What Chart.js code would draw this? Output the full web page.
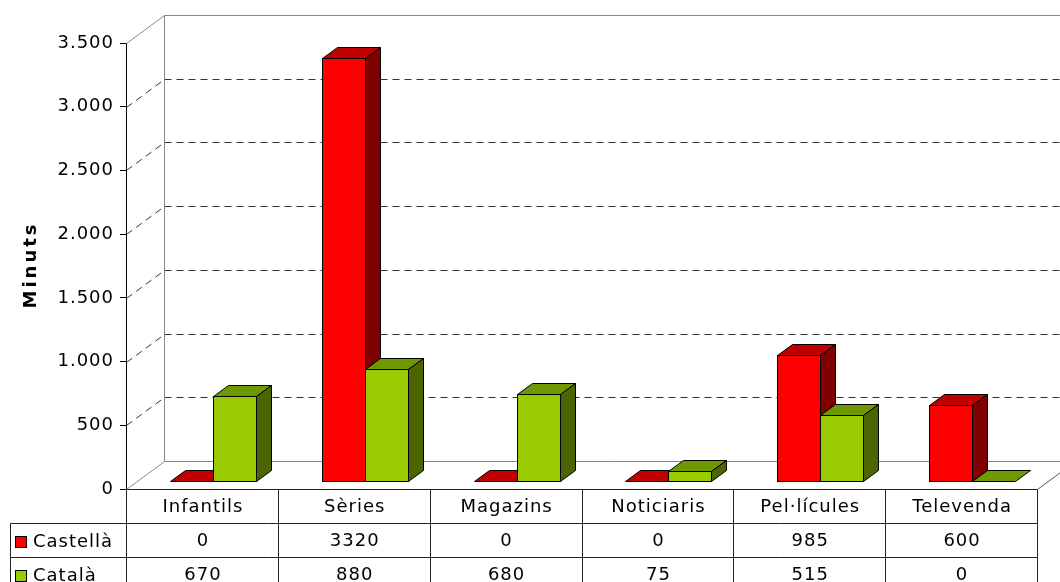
<!DOCTYPE html>
<html>
<head>
<meta charset="utf-8">
<script src="https://cdn.jsdelivr.net/npm/chart.js@4/dist/chart.umd.min.js"></script>
<style>
  body { margin: 0; background: #fff; }
  #wrap { width: 1060px; height: 582px; }
</style>
</head>
<body>
<div id="wrap"><canvas id="grafic" width="1060" height="582"></canvas></div>
<script>
// dades
const categories = ["Infantils", "Sèries", "Magazins", "Noticiaris", "Pel·lícules", "Televenda"];
const seriesNames = ["Castellà", "Català"];
const castella = [0, 3320, 0, 0, 985, 600];
const catala = [670, 880, 680, 75, 515, 0];
const yTitle = "Minuts";
const yMax = 3500;
const yStep = 500;

// colors: cara, sostre, lateral
const colors = [
  { face: "#ff0000", top: "#c00000", side: "#800000" },
  { face: "#99cc00", top: "#6f9900", side: "#4b6600" }
];

// perspectiva
const DEPTH_X = 38, DEPTH_Y = -28;     // fons de la paret
const BAR_OFF_X = 11, BAR_OFF_Y = -8;  // on comença la barra
const BAR_DX = 15, BAR_DY = -11;       // gruix de la barra

function fmt(v) {
  return String(v).replace(/\B(?=(\d{3})+(?!\d))/g, ".");
}

function line(ctx, x0, y0, x1, y1) {
  ctx.beginPath();
  ctx.moveTo(x0, y0);
  ctx.lineTo(x1, y1);
  ctx.stroke();
}

// -------------------------------
// PARETS I LINIES DE GRAELLA
// -------------------------------
const walls = {
  id: "walls",
  beforeDraw(chart) {
    const ctx = chart.ctx;
    ctx.fillStyle = "#fff";
    ctx.fillRect(0, 0, chart.width, chart.height);
    ctx.letterSpacing = "1px";
  },
  beforeDatasetsDraw(chart) {
    const ctx = chart.ctx;
    const a = chart.chartArea;
    const y = chart.scales.y;
    const L = a.left + 0.5, R = a.right + 0.5;
    const top = Math.round(a.top) + 0.5, bot = Math.round(a.bottom) + 0.5;
    ctx.save();
    ctx.lineWidth = 1;

    // graella discontinua
    ctx.strokeStyle = "#333";
    ctx.setLineDash([7, 5]);
    for (let v = yStep; v < yMax; v += yStep) {
      const py = Math.round(y.getPixelForValue(v)) + 0.5;
      line(ctx, L + DEPTH_X, py + DEPTH_Y, R + DEPTH_X + 40, py + DEPTH_Y);
      line(ctx, L, py, L + DEPTH_X, py + DEPTH_Y);
    }
    ctx.setLineDash([]);

    // vores de les parets
    ctx.strokeStyle = "#888";
    line(ctx, L, top, L + DEPTH_X, top + DEPTH_Y);
    line(ctx, L + DEPTH_X, top + DEPTH_Y, R + DEPTH_X + 40, top + DEPTH_Y);
    line(ctx, L + DEPTH_X, top + DEPTH_Y, L + DEPTH_X, bot + DEPTH_Y);
    line(ctx, L + DEPTH_X, bot + DEPTH_Y, R + DEPTH_X + 40, bot + DEPTH_Y);
    line(ctx, L, bot, L + DEPTH_X, bot + DEPTH_Y);
    ctx.strokeStyle = "#555";
    line(ctx, R, bot, R + DEPTH_X, bot + DEPTH_Y);
    ctx.restore();
  },

  // -------------------------------
  // BARRES 3D
  // -------------------------------
  afterDatasetsDraw(chart) {
    const ctx = chart.ctx;
    ctx.save();
    ctx.lineWidth = 1;
    ctx.strokeStyle = "#000";
    ctx.lineJoin = "miter";
    const metas = chart.data.datasets.map((d, i) => chart.getDatasetMeta(i));
    for (let c = 0; c < categories.length; c++) {
      metas.forEach((meta, s) => {
        const el = meta.data[c];
        const col = colors[s];
        const x0 = Math.round(el.x - el.width / 2) + BAR_OFF_X + 0.5;
        const x1 = Math.round(el.x + el.width / 2) + BAR_OFF_X + 0.5;
        const yt = Math.round(el.y) + BAR_OFF_Y + 0.5;
        const yb = Math.round(el.base) + BAR_OFF_Y + 0.5;

        // sostre
        ctx.beginPath();
        ctx.moveTo(x0, yt);
        ctx.lineTo(x0 + BAR_DX, yt + BAR_DY);
        ctx.lineTo(x1 + BAR_DX, yt + BAR_DY);
        ctx.lineTo(x1, yt);
        ctx.closePath();
        ctx.fillStyle = col.top;
        ctx.fill();
        ctx.stroke();

        if (yb - yt > 0.5) {
          // lateral
          ctx.beginPath();
          ctx.moveTo(x1, yt);
          ctx.lineTo(x1 + BAR_DX, yt + BAR_DY);
          ctx.lineTo(x1 + BAR_DX, yb + BAR_DY);
          ctx.lineTo(x1, yb);
          ctx.closePath();
          ctx.fillStyle = col.side;
          ctx.fill();
          ctx.stroke();
          // cara
          ctx.fillStyle = col.face;
          ctx.fillRect(x0, yt, x1 - x0, yb - yt);
          ctx.strokeRect(x0, yt, x1 - x0, yb - yt);
        }
      });
    }
    ctx.restore();
  },

  // -------------------------------
  // TAULA DE DADES + TITOL EIX
  // -------------------------------
  afterDraw(chart) {
    const ctx = chart.ctx;
    const a = chart.chartArea;
    const L = Math.round(a.left) + 0.5, R = Math.round(a.right) + 0.5;
    const top = Math.round(a.bottom) + 0.5;
    const rowH = 34;
    const colW = (a.right - a.left) / categories.length;
    const legL = 10.5;
    const rows = [castella, catala];

    ctx.save();
    ctx.lineWidth = 1;
    ctx.strokeStyle = "#222";
    line(ctx, L, top, R, top);
    for (let r = 1; r <= rows.length + 1; r++) {
      line(ctx, legL, top + r * rowH, R, top + r * rowH);
    }
    for (let c = 0; c <= categories.length; c++) {
      const x = Math.round(a.left + c * colW) + 0.5;
      line(ctx, x, top, x, chart.height);
    }
    line(ctx, legL, top + rowH, legL, chart.height);

    ctx.font = "18px 'DejaVu Sans'";
    ctx.letterSpacing = "1px";
    ctx.fillStyle = "#000";
    ctx.textBaseline = "middle";
    ctx.textAlign = "center";
    categories.forEach((cat, c) => {
      const cx = a.left + (c + 0.5) * colW + 1;
      ctx.fillText(cat, cx, top + rowH / 2 + 1);
      rows.forEach((vals, r) => {
        ctx.fillText(String(vals[c]), cx, top + (r + 1.5) * rowH + 1);
      });
    });

    ctx.textAlign = "left";
    seriesNames.forEach((name, r) => {
      const cy = top + (r + 1.5) * rowH + 1;
      ctx.fillStyle = colors[r].face;
      ctx.fillRect(15.5, Math.round(cy) - 5.5, 11, 11);
      ctx.strokeStyle = "#000";
      ctx.strokeRect(15.5, Math.round(cy) - 5.5, 11, 11);
      ctx.fillStyle = "#000";
      ctx.fillText(name, 33, cy + 1);
    });

    // titol de l'eix Y
    ctx.translate(31, (a.top + a.bottom) / 2);
    ctx.rotate(-Math.PI / 2);
    ctx.textAlign = "center";
    ctx.font = "bold 18px 'DejaVu Sans'";
    ctx.letterSpacing = "3px";
    ctx.fillText(yTitle, 1, 0);
    ctx.restore();
  }
};

new Chart(document.getElementById("grafic"), {
  type: "bar",
  data: {
    labels: categories,
    datasets: [
      { label: seriesNames[0], data: castella, backgroundColor: "rgba(0,0,0,0)", borderWidth: 0 },
      { label: seriesNames[1], data: catala, backgroundColor: "rgba(0,0,0,0)", borderWidth: 0 }
    ]
  },
  options: {
    responsive: false,
    animation: false,
    events: [],
    categoryPercentage: 0.567,
    barPercentage: 1,
    layout: { padding: { top: 43, right: 23, bottom: 93, left: 0 } },
    plugins: { legend: { display: false }, tooltip: { enabled: false } },
    scales: {
      x: { display: false },
      y: {
        min: 0,
        max: yMax,
        afterFit(scale) { scale.width = 126; },
        border: { display: true, color: "#000", width: 1 },
        grid: { drawOnChartArea: false, drawTicks: true, tickLength: 6, color: "#000" },
        ticks: {
          stepSize: yStep,
          padding: 6,
          color: "#000",
          font: { family: "DejaVu Sans", size: 18 },
          callback: v => fmt(v)
        }
      }
    }
  },
  plugins: [walls]
});
</script>
</body>
</html>
